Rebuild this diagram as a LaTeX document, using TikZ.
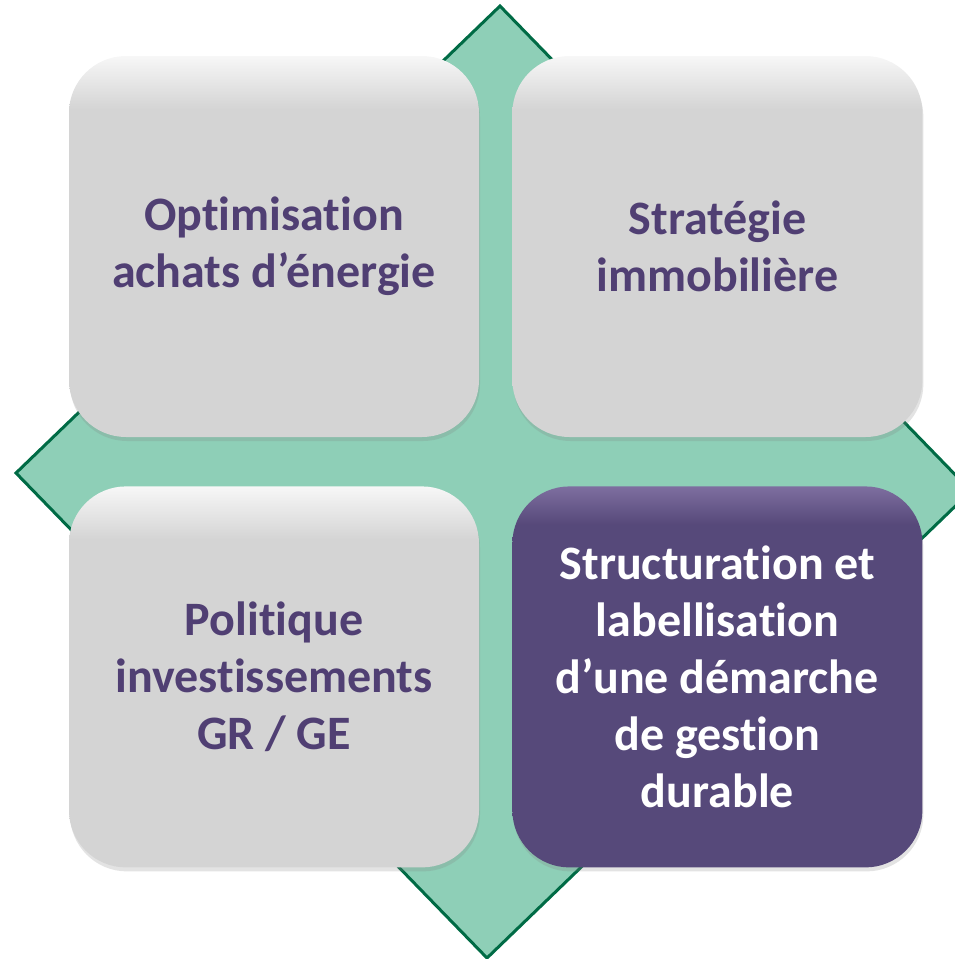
\documentclass[tikz,border=0pt]{standalone}
\usepackage{fontspec}
\setmainfont{Carlito}[Ligatures=NoCommon]
\usetikzlibrary{positioning,shadows}

\definecolor{boxgrey}{HTML}{D4D4D4}
\definecolor{boxwhite}{HTML}{F7F7F7}
\definecolor{purpledark}{HTML}{56497A}
\definecolor{purplelight}{HTML}{7E6FA0}
\definecolor{textpurple}{HTML}{503F73}
\definecolor{diamondfill}{HTML}{8ECFB7}
\definecolor{diamondline}{HTML}{006B45}

\pgfdeclareverticalshading{greybevel}{100bp}{color(0bp)=(boxgrey); color(68bp)=(boxgrey); color(75bp)=(boxwhite); color(100bp)=(boxwhite)}
\pgfdeclareverticalshading{purplebevel}{100bp}{color(0bp)=(purpledark); color(70bp)=(purpledark); color(75bp)=(purplelight); color(100bp)=(purplelight)}

\begin{document}
\begin{tikzpicture}[
    x=1pt, y=-1pt,
    node distance=49pt and 33pt,
    tile/.style={rectangle, rounded corners=57pt, minimum width=410pt, minimum height=381pt, align=center,
        font=\fontsize{48pt}{57pt}\selectfont\bfseries,
        drop shadow={opacity=0.22, shadow xshift=1pt, shadow yshift=-4pt}},
    greytile/.style={tile, shading=greybevel, text=textpurple},
    purpletile/.style={tile, shading=purplebevel, text=white}
]
    \useasboundingbox (0,0) rectangle (954,959);

    % background diamond
    \coordinate (dtop) at (500,6);
    \coordinate (dleft) at (16,473);
    \coordinate (dbottom) at (487,958);
    \coordinate (dright) at (971,491);
    \draw[diamondline, line width=3pt, line join=miter, fill=diamondfill] (dtop) -- (dleft) -- (dbottom) -- (dright) -- cycle;

    % the four tiles
    \node[greytile] (optim) at (274,246.5) {Optimisation\\achats d’énergie};
    \node[greytile, right=of optim] (strat) {Stratégie\\immobilière};
    \node[greytile, below=of optim] (polit) {Politique\\investissements\\GR / GE};
    \node[purpletile, below=of strat] (struct) {Structuration et\\labellisation\\d’une démarche\\de gestion\\durable};
\end{tikzpicture}
\end{document}
